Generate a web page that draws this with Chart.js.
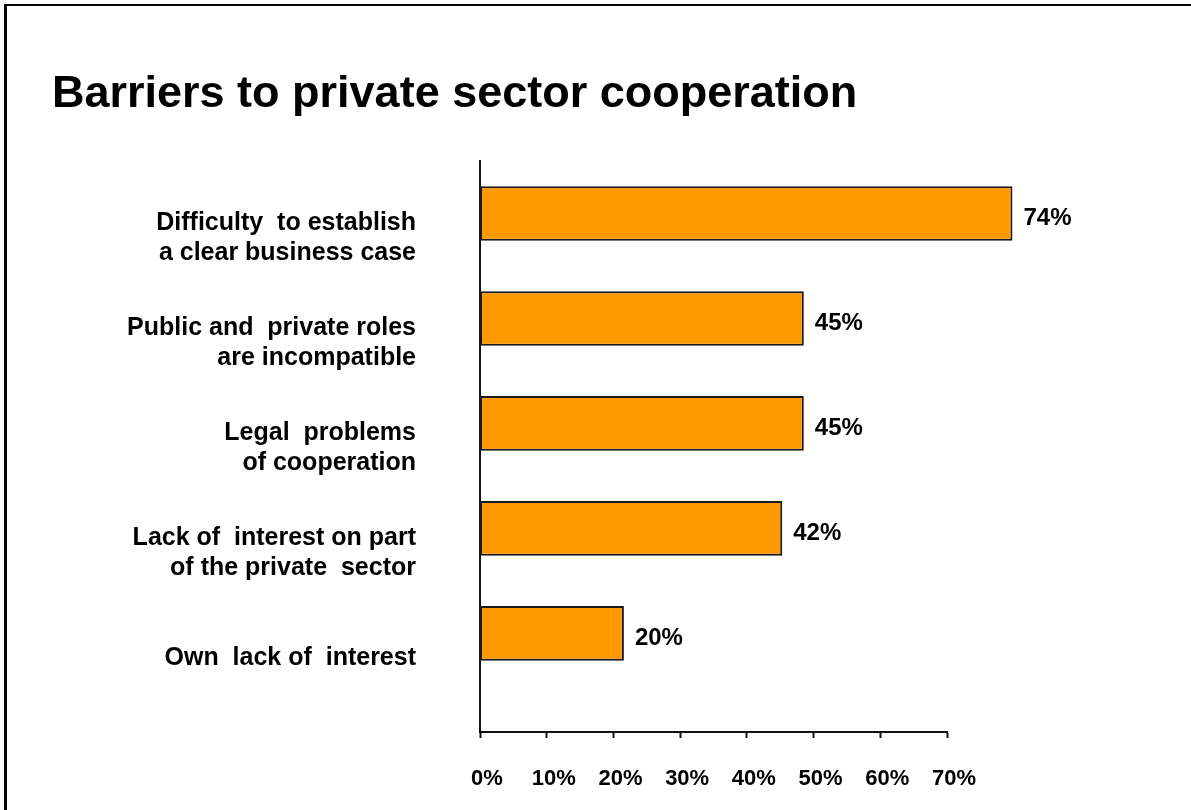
<!DOCTYPE html>
<html>
<head>
<meta charset="utf-8">
<title>Barriers to private sector cooperation</title>
<script src="https://cdn.jsdelivr.net/npm/chart.js@4.4.1/dist/chart.umd.min.js"></script>
<style>
  html, body { margin: 0; padding: 0; background: #fff; overflow: hidden; }
  #wrap { position: relative; width: 1191px; height: 810px; }
  #barriers { display: block; }
  /* slide frame: only the left and top edges show */
  #frame {
    position: absolute; left: 4px; top: 4px; width: 1210px; height: 830px;
    border-left: 3px solid #000; border-top: 2px solid #000;
    pointer-events: none;
  }
</style>
</head>
<body>
<div id="wrap">
  <canvas id="barriers" width="1191" height="810"></canvas>
  <div id="frame"></div>
</div>
<script>
// Survey answers, top to bottom
const categories = [
  ['Difficulty  to establish', 'a clear business case'],
  ['Public and  private roles', 'are incompatible'],
  ['Legal  problems', 'of cooperation'],
  ['Lack of  interest on part', 'of the private  sector'],
  ['Own  lack of  interest']
];
const shares = [74, 45, 45, 42, 20];
const axisTicks = [0, 10, 20, 30, 40, 50, 60, 70];

Chart.defaults.font.family = '"Liberation Sans", Arial, Helvetica, sans-serif';
Chart.defaults.color = '#000';

// Percent labels written just past the end of each bar
const valueLabels = {
  id: 'valueLabels',
  afterDatasetsDraw(chart) {
    const ctx = chart.ctx;
    const meta = chart.getDatasetMeta(0);
    ctx.save();
    ctx.font = 'bold 24px "Liberation Sans", Arial, sans-serif';
    ctx.fillStyle = '#000';
    ctx.textAlign = 'left';
    ctx.textBaseline = 'middle';
    meta.data.forEach((bar, i) => {
      ctx.fillText(shares[i] + '%', bar.x + 11, bar.y + 5);
    });
    ctx.restore();
  }
};

const ctx = document.getElementById('barriers').getContext('2d');

new Chart(ctx, {
  type: 'bar',
  data: {
    datasets: [
      {
        data: shares.map((v, i) => ({ x: v, y: i })),
        xAxisID: 'xb',
        yAxisID: 'y',
        backgroundColor: '#FF9900',
        borderColor: '#1a1a1a',
        borderWidth: 2,
        borderSkipped: false,
        barPercentage: 0.52,
        categoryPercentage: 1,
        clip: false,
      },
    ],
  },
  options: {
    indexAxis: 'y',
    responsive: false,
    animation: false,
    layout: { padding: { left: 52, right: 244, top: 0, bottom: 0 } },
    plugins: {
      legend: { display: false },
      tooltip: { enabled: false },
      title: {
        display: true,
        text: 'Barriers to private sector cooperation',
        align: 'start',
        color: '#000',
        font: { size: 45, weight: 'bold' },
        padding: { top: 68, bottom: 39 },
      },
    },
    scales: {
      // bars are measured on this one
      xb: {
        type: 'linear',
        display: false,
        min: 0,
        max: 64.9,
      },
      // printed percent axis
      x: {
        type: 'linear',
        position: 'bottom',
        min: 0,
        max: 70,
        afterBuildTicks: (scale) => {
          scale.ticks = axisTicks.map(v => ({ value: v }));
        },
        afterFit: (scale) => { scale.height = 78; },
        grid: {
          drawOnChartArea: false,
          drawTicks: true,
          tickLength: 6,
          tickWidth: 2,
          tickColor: '#111',
        },
        border: { display: true, color: '#111', width: 2 },
        ticks: {
          autoSkip: false,
          maxRotation: 0,
          padding: 28,
          labelOffset: 7,
          color: '#000',
          font: { size: 22, weight: 'bold' },
          callback: (value) => value + '%',
        },
      },
      y: {
        type: 'linear',
        offset: false,
        reverse: true,
        min: -0.5,
        max: 4.94,
        afterBuildTicks: (scale) => {
          scale.ticks = categories.map((c, i) => ({ value: i }));
        },
        afterFit: (scale) => {
          // fixed gutter for the labels; no extra room above/below the plot
          scale.width = 428;
          scale.paddingTop = 0;
          scale.paddingBottom = 0;
        },
        grid: { display: false, drawTicks: false, offset: false },
        border: { display: true, color: '#111', width: 2 },
        ticks: {
          autoSkip: false,
          padding: 64,
          labelOffset: 25,
          color: '#000',
          font: { size: 25, weight: 'bold', lineHeight: 1.2 },
          callback: (value, index) => categories[index],
        },
      },
    },
  },
  plugins: [valueLabels],
});
</script>
</body>
</html>
